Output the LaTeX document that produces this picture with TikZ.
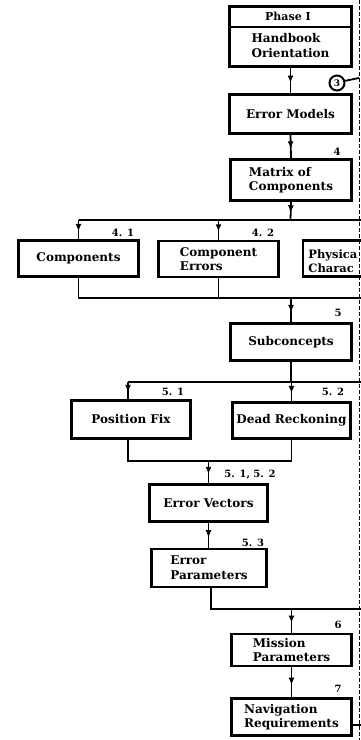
\documentclass[tikz,border=0pt]{standalone}
\usepackage{fontspec}
\setmainfont{DejaVu Serif}
\usetikzlibrary{arrows.meta,decorations.markings}
\begin{document}
\begin{tikzpicture}[x=1pt,y=-1pt,
  box/.style={draw, line width=2.8pt, font=\fontsize{12}{13.5}\selectfont\bfseries, align=left, inner sep=0pt},
  conn/.style={line width=1.8pt},
  midarrow/.style={postaction={decorate}, decoration={markings, mark=at position 0.6 with {\arrow{Latex[length=7.5pt,width=6pt]}}}},
  lbl/.style={font=\fontsize{10}{10}\selectfont\bfseries, inner sep=0pt},
]
\useasboundingbox (0,0) rectangle (361,740);
\clip (0,0) rectangle (361,740);

% dashed right edge line
\coordinate (dtop) at (359,0);
\coordinate (dbot) at (359,740);
\draw[line width=1pt, dash pattern=on 4pt off 2pt] (dtop) -- (dbot);

% boxes
\node[box, minimum width=122, minimum height=60] (hb) at (290.5,36.5) {};
\coordinate (dvl) at (229.5,27);
\coordinate (dvr) at (351.5,27);
\draw[line width=1.4pt] (dvl) -- (dvr);
\node[box, draw=none, align=center, font=\fontsize{11}{13}\selectfont\bfseries] (ph) at (288,16) {Phase I};
\node[box, draw=none, font=\fontsize{12}{15}\selectfont\bfseries] (hbt) at (290.5,46) {Handbook\\Orientation};

\node[box, minimum width=122, minimum height=39] (em) at (290.5,114) {Error Models};
\node[box, minimum width=121, minimum height=41] (mx) at (291,180) {Matrix of\\Components};
\node[box, minimum width=120, minimum height=36] (cp) at (78.5,258.5) {Components};
\node[box, minimum width=120, minimum height=36, font=\fontsize{12}{14}\selectfont\bfseries] (ce) at (218.5,259) {Component\\Errors};
\node[box, minimum width=120, minimum height=36, anchor=west] (pc) at (301.5,258.5) {};
\node[box, draw=none, anchor=west, font=\fontsize{11.5}{14}\selectfont\bfseries] (pct) at (307,261) {Physica\\Charac};
\node[box, minimum width=121, minimum height=37] (sc) at (291,342) {Subconcepts};
\node[box, minimum width=119, minimum height=38] (pf) at (131,419.5) {Position Fix};
\node[box, minimum width=118, minimum height=36] (dr) at (291.5,420.5) {Dead Reckoning};
\node[box, minimum width=118, minimum height=37] (ev) at (208.5,503) {Error Vectors};
\node[box, minimum width=115, minimum height=38, font=\fontsize{12}{15}\selectfont\bfseries] (ep) at (209,568) {Error\\Parameters};
\node[box, minimum width=120, minimum height=32] (mp) at (291.5,650) {Mission\\Parameters};
\node[box, minimum width=120, minimum height=37] (nr) at (291.5,717) {Navigation\\Requirements};

% circle 3
\node[draw, circle, line width=2pt, minimum size=15pt, inner sep=0pt, font=\fontsize{9}{9}\selectfont\bfseries] (c3) at (337,83) {3};
\coordinate (r3) at (359,78);
\draw[conn] (c3.15) -- (r3);

% labels
\node[lbl] (l4) at (337,152) {4};
\node[lbl] (l41) at (123,233) {4. 1};
\node[lbl] (l42) at (263,233) {4. 2};
\node[lbl] (l5) at (338,313) {5};
\node[lbl] (l51) at (173,392) {5. 1};
\node[lbl] (l52) at (333,392) {5. 2};
\node[lbl] (l5152) at (250,475) {5. 1, 5. 2};
\node[lbl] (l53) at (253,543) {5. 3};
\node[lbl] (l6) at (338,625) {6};
\node[lbl] (l7) at (338,689) {7};

% connectors
\draw[conn, midarrow] (hb.south) -- (em.north);
\draw[conn, midarrow] (em.south) -- (mx.north);

\coordinate (b1) at (290.5,220);
\coordinate (b1l) at (78.5,220);
\coordinate (b1m) at (218.5,220);
\coordinate (b1r) at (362,220);
\draw[conn, midarrow] (mx.south) -- (b1);
\draw[conn] (b1l) -- (b1r);
\draw[conn, midarrow] (b1l) -- (cp.north);
\draw[conn, midarrow] (b1m) -- (ce.north);

\coordinate (j1l) at (78.5,298);
\coordinate (j1m) at (218.5,298);
\coordinate (j1c) at (291,298);
\coordinate (j1r) at (362,298);
\draw[conn] (cp.south) -- (j1l) -- (j1r);
\draw[conn] (ce.south) -- (j1m);
\draw[conn, midarrow] (j1c) -- (sc.north);

\coordinate (b2) at (291,382);
\coordinate (b2l) at (128,382);
\coordinate (b2r) at (362,382);
\draw[conn] (sc.south) -- (b2);
\draw[conn] (b2l) -- (b2r);
\draw[conn, midarrow] (b2l) -- (pf.north -| b2l);
\draw[conn, midarrow] (b2 -| dr.north) -- (dr.north);

\coordinate (j2l) at (128,461);
\coordinate (j2r) at (291.5,461);
\coordinate (j2c) at (208.5,461);
\draw[conn] (pf.south -| j2l) -- (j2l) -- (j2r) -- (dr.south);
\draw[conn, midarrow] (j2c) -- (ev.north);

\draw[conn, midarrow] (ev.south) -- (ev.south |- ep.north);

\coordinate (j3a) at (211,609);
\coordinate (j3c) at (291.5,609);
\coordinate (j3r) at (362,609);
\draw[conn] (ep.south -| j3a) -- (j3a) -- (j3r);
\draw[conn, midarrow] (j3c) -- (mp.north);
\draw[conn, midarrow] (mp.south) -- (nr.north);

\coordinate (nre) at (362,725);
\draw[conn] (nr.east |- nre) -- (nre);
\end{tikzpicture}
\end{document}
